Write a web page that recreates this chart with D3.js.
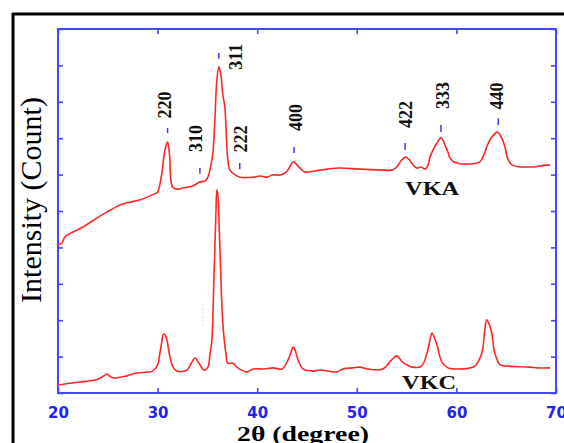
<!DOCTYPE html>
<html><head><meta charset="utf-8">
<script src="https://cdn.jsdelivr.net/npm/d3@7/dist/d3.min.js"></script>
<style>body{margin:0;background:#fff;} svg{display:block;}</style>
</head><body><svg id="c" width="564" height="443"></svg>
<script>
// ---- data ----
const xTicks = [20, 30, 40, 50, 60, 70];
const yTicks = [0, 10, 20, 30, 40, 50, 60, 70, 80, 90, 100];

const vkaAngle = [20.0,20.4,20.7,22.5,24.9,26.5,28.2,29.7,30.0,30.4,30.7,31.0,31.2,31.5,32.0,32.5,33.55,34.25,34.75,35.05,35.35,35.55,35.75,35.95,36.15,36.35,36.55,36.75,36.95,37.05,37.25,37.55,38.25,39.6,40.3,41.0,41.5,42.3,42.9,43.2,43.5,43.7,44.0,44.3,44.8,45.8,47.0,48.3,50.3,52.3,53.6,54.1,54.5,54.9,55.3,55.5,56.0,56.45,56.85,57.15,57.35,57.75,58.05,58.45,58.65,58.85,59.15,59.35,59.65,60.05,61.35,62.35,62.75,63.05,63.35,63.55,63.85,64.05,64.25,64.55,64.9,65.1,65.4,65.6,66.4,67.1,67.9,68.4,68.9,69.4];
const vkaIntensity = [40.7,41.2,42.9,45.6,49.7,51.9,53.0,54.7,55.2,59.9,66.2,69.0,65.4,56.6,56.0,56.3,56.9,58.0,58.2,59.3,62.6,65.9,75.0,86.0,89.6,87.4,81.9,78.6,68.1,64.0,61.3,60.4,59.3,59.3,59.6,59.3,59.9,59.9,60.7,61.8,63.2,63.5,62.6,61.8,60.7,61.0,61.5,61.8,61.5,61.3,61.3,62.4,64.0,64.8,64.0,63.2,61.8,62.1,61.5,62.6,64.8,67.3,68.7,70.1,69.5,68.1,66.2,64.6,63.7,63.2,62.9,63.5,65.4,67.6,69.5,70.3,71.2,71.7,71.4,70.1,67.3,64.8,63.2,62.6,62.1,62.1,62.1,62.4,62.6,62.6];

const vkcAngle = [20.0,21.2,22.2,24.0,24.6,24.9,25.3,25.7,26.9,27.9,29.5,30.0,30.2,30.4,30.6,30.8,31.0,31.2,31.55,31.95,32.95,33.45,33.75,34.15,34.65,35.05,35.25,35.45,35.65,35.85,35.95,36.05,36.25,36.55,36.85,37.05,37.55,38.05,39.0,39.6,40.6,41.6,42.5,43.1,43.4,43.6,43.8,44.1,44.6,45.6,46.3,48.0,48.6,49.6,50.3,51.1,52.6,53.5,54.0,54.6,55.6,56.5,57.05,57.35,57.55,57.75,58.05,58.55,59.15,60.35,61.85,62.55,62.85,63.05,63.35,63.55,63.85,64.4,65.1,67.4,68.1,69.4];
const vkcIntensity = [2.2,2.7,3.0,3.8,4.7,5.2,4.4,4.1,4.7,5.5,6.0,7.7,10.4,13.7,16.2,15.7,13.7,10.4,7.1,6.0,6.3,8.5,9.6,8.2,6.3,7.1,10.4,14.6,31.0,48.9,55.8,54.4,40.1,19.2,11.0,8.2,8.2,6.9,5.8,6.6,6.6,6.9,6.6,9.1,11.3,12.6,11.8,9.1,6.6,6.0,6.3,5.8,6.6,6.9,7.1,6.6,6.6,9.1,10.2,8.5,7.1,7.4,11.0,14.6,16.5,15.4,13.2,8.5,6.9,6.6,7.4,11.0,17.3,20.1,18.4,16.5,11.0,7.7,7.4,7.1,6.9,6.9];

const hklLabels   = ["220","310","311","222","400","422","333","440"];
const hklAngle    = [31.0, 34.25, 36.15, 38.25, 43.7, 54.85, 58.45, 64.2];
const hklMarkLo   = [71.4, 60.2, 91.8, 61.5, 65.9, 66.8, 71.7, 73.6];
const hklMarkHi   = [72.8, 61.8, 93.4, 63.2, 67.6, 68.7, 73.6, 75.5];
const hklTextAngle= [30.75, 33.8, 37.8, 38.3, 43.85, 54.9, 58.6, 64.0];
const hklTextY    = [79.1, 69.9, 92.4, 69.8, 75.7, 76.5, 81.7, 81.6];

const sampleNames = ["VKA", "VKC"];
const sampleAngle = [54.85, 54.55];
const sampleY     = [54.4, 1.1];

// ---- layout ----
const svg = d3.select("#c");
const L = 58, R = 556, T = 29, B = 393;
const x = d3.scaleLinear().domain([20, 70]).range([L, R]);
const y = d3.scaleLinear().domain([0, 100]).range([B, T]);
const axisColor = "#4646ff";
const labelBlue = "#2323f0";

// outer black frame (left and top)
svg.append("line").attr("x1", 13).attr("x2", 13).attr("y1", 13).attr("y2", 443)
  .attr("stroke", "#000").attr("stroke-width", 3);
svg.append("line").attr("x1", 12).attr("x2", 564).attr("y1", 14).attr("y2", 14)
  .attr("stroke", "#000").attr("stroke-width", 3);

// axes
const tickInner = -5;
function styleAxis(g){
  g.select(".domain").remove();
  g.selectAll(".tick line").attr("stroke", axisColor).attr("stroke-width", 1.6);
}
const gBottom = svg.append("g").attr("transform", `translate(0,${B})`)
  .call(d3.axisBottom(x).tickValues(xTicks).tickSize(tickInner).tickPadding(14).tickFormat(d3.format("d")));
styleAxis(gBottom);
gBottom.selectAll(".tick text").attr("fill", labelBlue)
  .attr("font-family", "DejaVu Sans, Verdana, sans-serif").attr("font-weight", "bold").attr("font-size", 15)
  .attr("dy", "0.71em");
const gTop = svg.append("g").attr("transform", `translate(0,${T})`)
  .call(d3.axisTop(x).tickValues(xTicks).tickSize(tickInner).tickFormat(""));
styleAxis(gTop);
const gLeft = svg.append("g").attr("transform", `translate(${L},0)`)
  .call(d3.axisLeft(y).tickValues(yTicks).tickSize(tickInner).tickFormat(""));
styleAxis(gLeft);
const gRight = svg.append("g").attr("transform", `translate(${R},0)`)
  .call(d3.axisRight(y).tickValues(yTicks).tickSize(tickInner).tickFormat(""));
styleAxis(gRight);

svg.append("rect").attr("x", L).attr("y", T).attr("width", R - L).attr("height", B - T)
  .attr("fill", "none").attr("stroke", axisColor).attr("stroke-width", 2);

// faint artifact mark
svg.append("line").attr("x1", x(34.55)).attr("x2", x(34.55)).attr("y1", y(24.5)).attr("y2", y(18))
  .attr("stroke", "#a8e4ff").attr("stroke-width", 1).attr("stroke-dasharray", "2,2");

// curves
const lineGen = d3.line().x(d => x(d[0])).y(d => y(d[1])).curve(d3.curveCatmullRom.alpha(0.5));
svg.append("path").datum(d3.zip(vkaAngle, vkaIntensity)).attr("d", lineGen)
  .attr("fill", "none").attr("stroke", "#ff2626").attr("stroke-width", 1.6);
svg.append("path").datum(d3.zip(vkcAngle, vkcIntensity)).attr("d", lineGen)
  .attr("fill", "none").attr("stroke", "#ff2626").attr("stroke-width", 1.6);

// hkl markers and labels
hklLabels.forEach((lab, i) => {
  svg.append("line").attr("x1", x(hklAngle[i])).attr("x2", x(hklAngle[i]))
    .attr("y1", y(hklMarkLo[i])).attr("y2", y(hklMarkHi[i]))
    .attr("stroke", "#3a3aff").attr("stroke-width", 1.5);
  const tx = x(hklTextAngle[i]), ty = y(hklTextY[i]);
  svg.append("text").attr("transform", `translate(${tx},${ty}) rotate(-90)`)
    .attr("text-anchor", "middle").attr("dy", "0.35em")
    .attr("font-family", "Liberation Serif, Times New Roman, serif").attr("font-weight", "bold")
    .attr("font-size", 18).attr("fill", "#111").text(lab);
});

// sample names
sampleNames.forEach((s, i) => {
  svg.append("text").attr("x", x(sampleAngle[i])).attr("y", y(sampleY[i]))
    .attr("font-family", "Liberation Serif, Times New Roman, serif").attr("font-weight", "bold")
    .attr("font-size", 19).attr("fill", "#111")
    .attr("textLength", 54).attr("lengthAdjust", "spacingAndGlyphs").text(s);
});

// axis titles
svg.append("text").attr("transform", `translate(41,200) rotate(-90)`)
  .attr("text-anchor", "middle")
  .attr("font-family", "Liberation Serif, Times New Roman, serif").attr("font-size", 30)
  .attr("fill", "#000").text("Intensity (Count)");
svg.append("text").attr("x", 303).attr("y", 441).attr("text-anchor", "middle")
  .attr("font-family", "Liberation Serif, Times New Roman, serif").attr("font-weight", "bold")
  .attr("font-size", 22).attr("fill", "#000")
  .attr("textLength", 132).attr("lengthAdjust", "spacingAndGlyphs").text("2θ (degree)");
</script></body></html>
